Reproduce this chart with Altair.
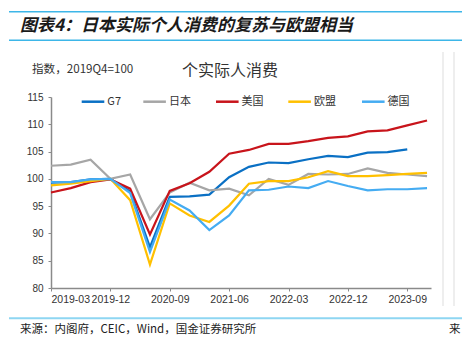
import altair as alt
import pandas as pd

quarters = ["2019-03", "2019-06", "2019-09", "2019-12", "2020-03", "2020-06", "2020-09",
            "2020-12", "2021-03", "2021-06", "2021-09", "2021-12", "2022-03", "2022-06",
            "2022-09", "2022-12", "2023-03", "2023-06", "2023-09", "2023-12"]
tick_labels = ["2019-03", "2019-12", "2020-09", "2021-06", "2022-03", "2022-12", "2023-09"]
series_names = ["G7", "日本", "美国", "欧盟", "德国"]
series_colors = ["#0A70C4", "#A6A6A6", "#C8141B", "#FFC000", "#45ACF2"]

g7 = [99.3, 99.4, 99.9, 100.0, 97.7, 87.5, 96.7, 96.8, 97.1, 100.3, 102.2, 103.0, 102.9,
      103.6, 104.2, 104.0, 104.8, 104.9, 105.4, None]
japan = [102.4, 102.6, 103.5, 100.0, 100.8, 92.6, 97.5, 99.3, 97.9, 98.2, 97.0, 100.0, 98.9,
         100.9, 100.8, 100.9, 101.9, 101.1, 100.8, 100.5]
usa = [97.5, 98.3, 99.4, 99.9, 98.2, 89.8, 97.8, 99.2, 101.3, 104.6, 105.3, 106.4, 106.4,
       106.9, 107.5, 107.8, 108.7, 108.9, 109.8, 110.7]
eu = [98.8, 99.1, 99.6, 100.0, 96.1, 84.3, 95.5, 93.3, 92.1, 95.1, 99.1, 99.6, 99.6,
      100.3, 101.4, 100.5, 100.5, 100.7, 100.9, 101.1]
germany = [99.4, 99.4, 99.9, 100.0, 97.4, 86.6, 96.2, 94.2, 90.6, 93.3, 97.9, 98.0, 98.6,
           98.3, 99.6, 98.7, 97.9, 98.1, 98.1, 98.3]

header_text = "图表4：日本实际个人消费的复苏与欧盟相当"
unit_text = "指数，2019Q4=100"
inner_title = "个实际人消费"
source_text = "来源：内阁府，CEIC，Wind，国金证券研究所"
right_text = "来"

rows = []
for name, vals in zip(series_names, [g7, japan, usa, eu, germany]):
    for i, (q, v) in enumerate(zip(quarters, vals)):
        if v is not None:
            rows.append({"series": name, "i": i, "q": q, "v": v})
df = pd.DataFrame(rows)

PL, PT, W, H = 51, 97, 380, 191
PR = 462 - PL - W
PB = 337 - PT - H

color_scale = alt.Scale(domain=series_names, range=series_colors)

tick_idx = [quarters.index(t) for t in tick_labels]
label_expr = "{" + ",".join(f"'{i}':'{t}'" for i, t in zip(tick_idx, tick_labels)) + "}[''+datum.value]"

lines = alt.Chart(df).mark_line(strokeWidth=2.2).encode(
    x=alt.X("i:Q", scale=alt.Scale(domain=[0, 19.2], nice=False, zero=False),
            axis=alt.Axis(values=tick_idx, labelExpr=label_expr, title=None, grid=False,
                          tickSize=3, labelPadding=3, domainColor="#8a8a8a", tickColor="#8a8a8a",
                          domainWidth=1.5, labelFontSize=10.5, labelColor="#333333",
                          labelFont="Liberation Sans")),
    y=alt.Y("v:Q", scale=alt.Scale(domain=[80, 115], nice=False, zero=False),
            axis=alt.Axis(values=[80, 85, 90, 95, 100, 105, 110, 115], title=None, grid=False,
                          tickSize=3, labelPadding=5, domainColor="#8a8a8a", tickColor="#8a8a8a",
                          domainWidth=1.5, labelFontSize=10, labelColor="#333333",
                          labelFont="Liberation Sans")),
    color=alt.Color("series:N", sort=series_names, scale=color_scale, legend=None),
)

# legend entries (layout positions in pixels, relative to plot origin)
leg_start = [81.7, 143.3, 216.0, 288.3, 362.0]
leg_df = pd.DataFrame({
    "series": series_names,
    "sx": [s - PL for s in leg_start],
    "ex": [s - PL + 22.6 for s in leg_start],
    "tx": [s - PL + 25.6 for s in leg_start],
})
LEG_Y = 101.7 - PT
leg_sym = alt.Chart(leg_df).mark_rule(strokeWidth=2.5).encode(
    x=alt.X("sx:Q", scale=None), x2="ex:Q", y=alt.value(LEG_Y),
    color=alt.Color("series:N", scale=color_scale, legend=None))
leg_txt = alt.Chart(leg_df).mark_text(align="left", baseline="middle", fontSize=11,
                                      font="Noto Sans CJK SC", color="#333333").encode(
    x=alt.X("tx:Q", scale=None), y=alt.value(LEG_Y), text="series:N")


def txt(s, x, y, size, **kw):
    return alt.Chart(pd.DataFrame({"t": [s]})).mark_text(
        align=kw.pop("align", "left"), baseline="middle", fontSize=size, **kw
    ).encode(text="t:N", x=alt.value(x - PL), y=alt.value(y - PT))


def hrule(x1, x2, y, color, w):
    return alt.Chart(pd.DataFrame({"a": [0]})).mark_rule(color=color, strokeWidth=w).encode(
        x=alt.value(x1 - PL), x2=alt.value(x2 - PL), y=alt.value(y - PT))


def vrule(x, y1, y2, color, w):
    return alt.Chart(pd.DataFrame({"a": [0]})).mark_rule(color=color, strokeWidth=w).encode(
        x=alt.value(x - PL), y=alt.value(y1 - PT), y2=alt.value(y2 - PT))


deco = [
    hrule(9, 462, 11.7, "#3DB6E8", 1.5),
    hrule(9, 462, 40.3, "#3DB6E8", 1.5),
    hrule(9, 462, 318.3, "#8ED6F2", 2),
    vrule(443, 52, 306, "#DDDDDD", 1),
    vrule(454, 52, 306, "#DDDDDD", 1),
    txt(header_text, 20, 25.5, 17, font="Noto Sans CJK SC", fontWeight="bold",
        fontStyle="italic", color="#1a1a1a"),
    txt(unit_text, 32, 69.5, 11.6, font="Noto Sans CJK SC", color="#333333"),
    txt(inner_title, 182, 71, 16, font="Noto Sans CJK SC", color="#333333"),
    txt(source_text, 20, 329.5, 11.5, font="Noto Sans CJK SC", color="#222222"),
    txt(right_text, 449, 329.5, 11.5, font="Noto Sans CJK SC", color="#222222"),
]

chart = alt.layer(lines, leg_sym, leg_txt, *deco).resolve_scale(x="independent").properties(
    width=W, height=H, autosize=alt.AutoSizeParams(type="none"),
    padding={"left": PL, "top": PT, "right": PR, "bottom": PB},
    background="white",
).configure_view(stroke=None)

chart.save("out.html", embed_options={"renderer": "svg", "actions": False})
